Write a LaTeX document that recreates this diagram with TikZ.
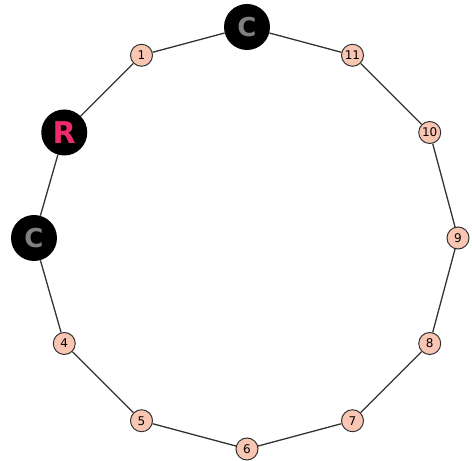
\documentclass[tikz,border=0pt]{standalone}
\usepackage{fontspec}
\setsansfont{DejaVu Sans}
\usetikzlibrary{positioning}
\definecolor{peach}{HTML}{F9C6B3}
\definecolor{hotpink}{HTML}{EE2A6E}
\definecolor{edgegray}{HTML}{333333}

\begin{document}
\begin{tikzpicture}[x=1pt, y=1pt,
    small/.style={circle, draw=edgegray, fill=peach, line width=1pt, inner sep=0pt, minimum size=22pt, font=\sffamily\fontsize{12}{14}\selectfont},
    big/.style={circle, fill=black, inner sep=0pt, minimum size=46pt, font=\sffamily\bfseries\fontsize{26}{30}\selectfont}]
    \useasboundingbox (0,0) rectangle (472,461);
    \begin{scope}[shift={(247,223)}]
    \node[big, text=gray] (v0) at (90:211) {C};
    \node[big, text=hotpink, font=\sffamily\bfseries\fontsize{30}{34}\selectfont] (v2) at (150:211) {R};
    \node[big, text=gray] (v3) at (180:213) {C};
    \foreach \i/\t in {1/1, 4/4, 5/5, 6/6, 7/7, 8/8, 9/9, 10/10, 11/11} {
        \node[small] (v\i) at (90+30*\i:211) {\t};
    }
    \end{scope}
    \foreach \i/\j in {0/1, 1/2, 2/3, 3/4, 4/5, 5/6, 6/7, 7/8, 8/9, 9/10, 10/11, 11/0} {
        \draw[edgegray, line width=1.3pt] (v\i) -- (v\j);
    }
\end{tikzpicture}
\end{document}
